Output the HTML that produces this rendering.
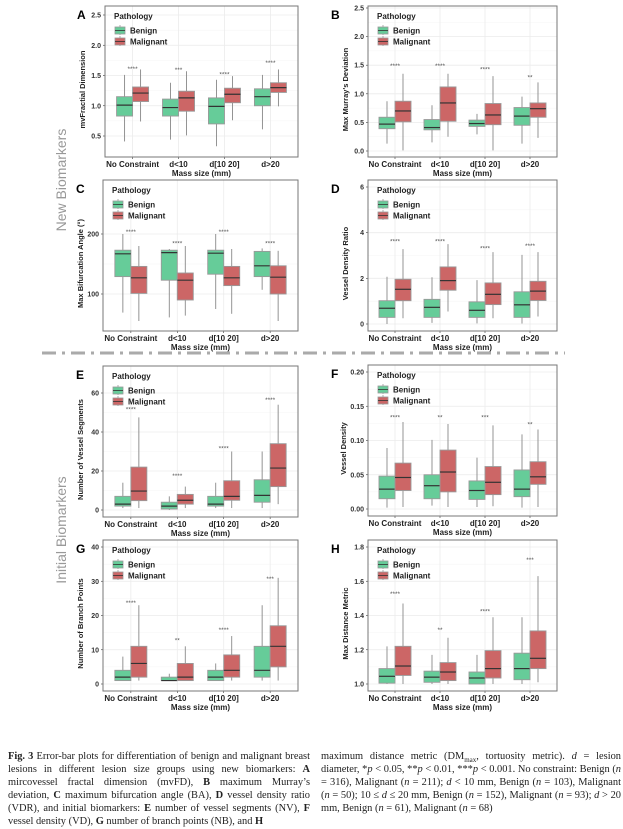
<!DOCTYPE html>
<html><head><meta charset="utf-8">
<style>
body{margin:0;background:#fff;width:623px;height:793px;overflow:hidden;font-family:"Liberation Sans",sans-serif;}
#cap{position:absolute;top:750px;left:8px;width:607px;font-family:"Liberation Serif",serif;font-size:10.4px;line-height:13.1px;color:#222;}
.col{position:absolute;top:0;width:302px;text-align:justify;}
</style></head><body>
<svg id="fig" width="623" height="793" style="position:absolute;left:0;top:0" xmlns="http://www.w3.org/2000/svg"></svg>
<div id="cap">
<div class="col" style="left:0"><b>Fig. 3</b> Error-bar plots for differentiation of benign and malignant breast lesions in different lesion size groups using new biomarkers: <b>A</b> mircovessel fractal dimension (mvFD), <b>B</b> maximum Murray’s deviation, <b>C</b> maximum bifurcation angle (BA), <b>D</b> vessel density ratio (VDR), and initial biomarkers: <b>E</b> number of vessel segments (NV), <b>F</b> vessel density (VD), <b>G</b> number of branch points (NB), and <b>H</b></div>
<div class="col" style="left:313px;width:300px">maximum distance metric (DM<sub style="font-size:7px;line-height:0">max</sub>, tortuosity metric). <i>d</i> = lesion diameter, *<i>p</i> &lt; 0.05, **<i>p</i> &lt; 0.01, ***<i>p</i> &lt; 0.001. No constraint: Benign (<i>n</i> = 316), Malignant (<i>n</i> = 211); <i>d</i> &lt; 10 mm, Benign (<i>n</i> = 103), Malignant (<i>n</i> = 50); 10 ≤ <i>d</i> ≤ 20 mm, Benign (<i>n</i> = 152), Malignant (<i>n</i> = 93); <i>d</i> &gt; 20 mm, Benign (<i>n</i> = 61), Malignant (<i>n</i> = 68)</div>
</div>
<script>
const categories=["No Constraint","d<10","d[10 20]","d>20"];
// [min,q1,median,q3,max] per category
const benignA=[[0.41,0.83,1.01,1.15,1.51],[0.44,0.83,0.97,1.11,1.38],[0.33,0.7,0.99,1.13,1.43],[0.61,1.0,1.15,1.28,1.51]];
const malignA=[[0.74,1.07,1.21,1.31,1.6],[0.51,0.91,1.13,1.24,1.57],[0.76,1.05,1.19,1.29,1.49],[0.99,1.22,1.3,1.38,1.6]];
const starsA=["****","***","****","****"];const starYA=[1.62,1.61,1.53,1.72];
const benignB=[[0.13,0.39,0.47,0.59,0.87],[0.15,0.37,0.41,0.55,0.8],[0.29,0.43,0.48,0.54,0.65],[0.13,0.45,0.61,0.76,0.95]];
const malignB=[[0.01,0.51,0.7,0.87,1.35],[0.25,0.52,0.84,1.12,1.35],[0.01,0.46,0.63,0.83,1.31],[0.23,0.59,0.74,0.84,1.2]];
const starsB=["****","****","****","**"];const starYB=[1.5,1.5,1.44,1.3];
const benignC=[[69,129,167,173,200],[61,123,169,173,175],[75,133,168,173,200],[107,129,147,171,176]];
const malignC=[[55,101,127,146,180],[64,90,123,135,180],[67,114,127,146,175],[55,100,128,147,172]];
const starsC=["****","****","****","****"];const starYC=[205,186,205,186];
const benignD=[[0.0,0.29,0.69,1.02,2.07],[0.05,0.29,0.73,1.08,2.05],[0.03,0.29,0.6,0.97,1.92],[0.02,0.29,0.84,1.41,3.03]];
const malignD=[[0.25,1.02,1.52,1.96,3.28],[0.55,1.48,1.9,2.5,3.5],[0.25,0.85,1.3,1.8,3.15],[0.33,1.03,1.44,1.87,3.15]];
const starsD=["****","****","****","****"];const starYD=[3.65,3.65,3.35,3.45];
const benignE=[[1,2,3,7,14],[0,0.5,2,4,7],[1,2,3,7,14],[1,4,7.5,15.5,30]];
const malignE=[[1,4.8,9.7,22,47.5],[1,3,5,8,12],[1,5,7,15,30],[3,12,21.5,34,54]];
const starsE=["****","****","****","****"];const starYE=[52,18,32,57];
const benignF=[[0.002,0.015,0.029,0.048,0.089],[0.005,0.015,0.034,0.05,0.101],[0.003,0.014,0.027,0.041,0.075],[0.002,0.018,0.029,0.057,0.109]];
const malignF=[[0.003,0.027,0.046,0.067,0.127],[0.003,0.025,0.054,0.086,0.124],[0.004,0.021,0.039,0.062,0.122],[0.003,0.036,0.047,0.069,0.116]];
const starsF=["****","**","***","**"];const starYF=[0.135,0.135,0.135,0.125];
const benignG=[[1,1,2,4,8],[1,1,1,2,3],[1,1,2,4,6],[1,2,4,11,23]];
const malignG=[[1,2,6,11,23],[1,1,2,6,11],[1,2,4,8.5,14],[1,5,11,17,31]];
const starsG=["****","**","****","***"];const starYG=[24,13,16,31];
const benignH=[[1.0,1.005,1.045,1.09,1.22],[1.0,1.01,1.04,1.075,1.17],[1.0,1.0,1.035,1.07,1.17],[1.0,1.025,1.09,1.18,1.39]];
const malignH=[[1.0,1.05,1.105,1.22,1.47],[1.0,1.02,1.07,1.125,1.27],[1.0,1.035,1.09,1.195,1.39],[1.01,1.09,1.15,1.31,1.63]];
const starsH=["****","**","****","***"];const starYH=[1.53,1.32,1.43,1.73];
const ticksA=[0.5,1.0,1.5,2.0,2.5],ticksB=[0.0,0.5,1.0,1.5,2.0,2.5],ticksC=[100,200],ticksD=[0,2,4,6],ticksE=[0,20,40,60],ticksF=[0.00,0.05,0.10,0.15,0.20],ticksG=[0,10,20,30,40],ticksH=[1.0,1.2,1.4,1.6,1.8];

const svg=document.getElementById('fig');const NS="http://www.w3.org/2000/svg";
function el(tag,at,parent,txt){const e=document.createElementNS(NS,tag);for(const k in at)e.setAttribute(k,at[k]);if(txt!==undefined)e.textContent=txt;(parent||svg).appendChild(e);return e;}

function panel(cfg){
 const g=el('g',{});
 
 
 const L=cfg.x,R=cfg.x+cfg.w,T=cfg.y,B=cfg.y+151;
 const ys=v=>cfg.p1+(v-cfg.v1)*(cfg.p2-cfg.p1)/(cfg.v2-cfg.v1);
 const unit=(R-L)/4.2; const xs=i=>L+unit*(0.6+i);
 let maxc=0;
 cfg.ticks.forEach((t,k)=>{const y=ys(t);const lab=cfg.fmt(t);maxc=Math.max(maxc,lab.length);
  const gl=el('line',{x1:L,x2:R,y1:y,y2:y,stroke:'#ebebeb','stroke-width':0.8},g);
  
  if(k<cfg.ticks.length-1){const ym=ys((t+cfg.ticks[k+1])/2);el('line',{x1:L,x2:R,y1:ym,y2:ym,stroke:'#f4f4f4','stroke-width':0.5},g);}
  const tl=el('text',{x:L-4,y:y+2.5,'text-anchor':'end','font-size':7,'font-weight':'bold',fill:'#333'},g,lab);
  
  el('line',{x1:L-2,x2:L,y1:y,y2:y,stroke:'#333','stroke-width':0.6},g);
 });
 categories.forEach((c,i)=>{const x=xs(i);el('line',{x1:x,x2:x,y1:T,y2:B,stroke:'#ebebeb','stroke-width':0.8},g);
  const xl=el('text',{x:x,y:B+10,'text-anchor':'middle','font-size':8,'font-weight':'bold',fill:'#222'},g,c);
  
  el('line',{x1:x,x2:x,y1:B,y2:B+2,stroke:'#333','stroke-width':0.6},g);
 });
 const bw=16;
 [[cfg.ben,'#66cc99',-1],[cfg.mal,'#cc6666',1]].forEach(([arr,col,side])=>{
  arr.forEach((d,i)=>{const cx=xs(i)+side*bw/2;
   const wl=el('line',{x1:cx,x2:cx,y1:ys(d[0]),y2:ys(d[4]),stroke:'#888','stroke-width':0.9},g);
   
   const r=el('rect',{x:cx-bw/2,y:ys(d[3]),width:bw,height:ys(d[1])-ys(d[3]),fill:col,stroke:'#999','stroke-width':0.9},g);
   
   el('line',{x1:cx-bw/2,x2:cx+bw/2,y1:ys(d[2]),y2:ys(d[2]),stroke:'#333','stroke-width':1.2},g);
  });
 });
 cfg.stars.forEach((s,i)=>{const st=el('text',{x:xs(i),y:ys(cfg.starY[i])+3,'text-anchor':'middle','font-size':6.5,fill:'#555'},g,s);
  });
 const fr=el('rect',{x:L,y:T,width:R-L,height:B-T,fill:'none',stroke:'#777','stroke-width':1},g);
 
 const lt=el('text',{x:cfg.lx,y:T+13,'font-size':12,'font-weight':'bold',fill:'#000'},g,cfg.letter);
 
 const off=Math.max(20,maxc*4+6);
 const yt=el('text',{transform:`translate(${L-off},${(T+B)/2+8}) rotate(-90)`,'text-anchor':'middle','font-size':7.5,'font-weight':'bold',fill:'#222'},g,cfg.ytitle);
 
 const xt=el('text',{x:(L+R)/2,y:B+19,'text-anchor':'middle','font-size':8,'font-weight':'bold',fill:'#222'},g,'Mass size (mm)');
 
 const lg=el('g',{},g);
 el('text',{x:L+9,y:T+13,'font-size':8,'font-weight':'bold',fill:'#222'},lg,'Pathology');
 [['Benign','#66cc99',T+24],['Malignant','#cc6666',T+35]].forEach(([n,c,y])=>{
  el('line',{x1:L+15,x2:L+15,y1:y-5,y2:y+5,stroke:'#999','stroke-width':0.8},lg);
  el('rect',{x:L+10,y:y-3,width:10,height:7,fill:c,stroke:'#999','stroke-width':0.8},lg);
  el('line',{x1:L+10,x2:L+20,y1:y+0.5,y2:y+0.5,stroke:'#333','stroke-width':0.8},lg);
  const le=el('text',{x:L+25,y:y+3.5,'font-size':8,'font-weight':'bold',fill:'#222'},lg,n);
  
 });
}
const f1=v=>v.toFixed(1),f0=v=>String(v),f2=v=>v.toFixed(2);
panel({letter:'A',lx:77,x:105,w:193,y:6,v1:2.5,p1:15,v2:0.5,p2:136,ticks:ticksA,fmt:f1,ben:benignA,mal:malignA,stars:starsA,starY:starYA,ytitle:'mvFractial Dimension'});
panel({letter:'B',lx:331,x:368,w:189,y:6,v1:2.5,p1:8,v2:0,p2:151,ticks:ticksB,fmt:f1,ben:benignB,mal:malignB,stars:starsB,starY:starYB,ytitle:"Max Murray's Deviation"});
panel({letter:'C',lx:76,x:103,w:195,y:180,v1:200,p1:234,v2:100,p2:294,ticks:ticksC,fmt:f0,ben:benignC,mal:malignC,stars:starsC,starY:starYC,ytitle:'Max Bifurcation Angle (°)'});
panel({letter:'D',lx:331,x:368,w:189,y:180,v1:6,p1:187,v2:0,p2:324,ticks:ticksD,fmt:f0,ben:benignD,mal:malignD,stars:starsD,starY:starYD,ytitle:'Vessel Density Ratio'});
panel({letter:'E',lx:76,x:103,w:195,y:366,v1:60,p1:393,v2:0,p2:510,ticks:ticksE,fmt:f0,ben:benignE,mal:malignE,stars:starsE,starY:starYE,ytitle:'Number of Vessel Segments'});
panel({letter:'F',lx:331,x:368,w:189,y:365,v1:0.2,p1:372,v2:0,p2:509,ticks:ticksF,fmt:f2,ben:benignF,mal:malignF,stars:starsF,starY:starYF,ytitle:'Vessel Density'});
panel({letter:'G',lx:76,x:103,w:195,y:540,v1:40,p1:547,v2:0,p2:684,ticks:ticksG,fmt:f0,ben:benignG,mal:malignG,stars:starsG,starY:starYG,ytitle:'Number of Branch Points'});
panel({letter:'H',lx:331,x:368,w:189,y:540,v1:1.8,p1:547,v2:1.0,p2:684,ticks:ticksH,fmt:f1,ben:benignH,mal:malignH,stars:starsH,starY:starYH,ytitle:'Max Distance Metric'});
const sep=el('line',{x1:42,x2:565,y1:353,y2:353,stroke:'#aaa','stroke-width':3,'stroke-dasharray':'14,6,3,6'});

const s1=el('text',{transform:'translate(66,180) rotate(-90)','text-anchor':'middle','font-size':14,fill:'#999'},svg,'New Biomarkers');

const s2=el('text',{transform:'translate(66,530) rotate(-90)','text-anchor':'middle','font-size':14,fill:'#999'},svg,'Initial Biomarkers');

</script>
</body></html>
